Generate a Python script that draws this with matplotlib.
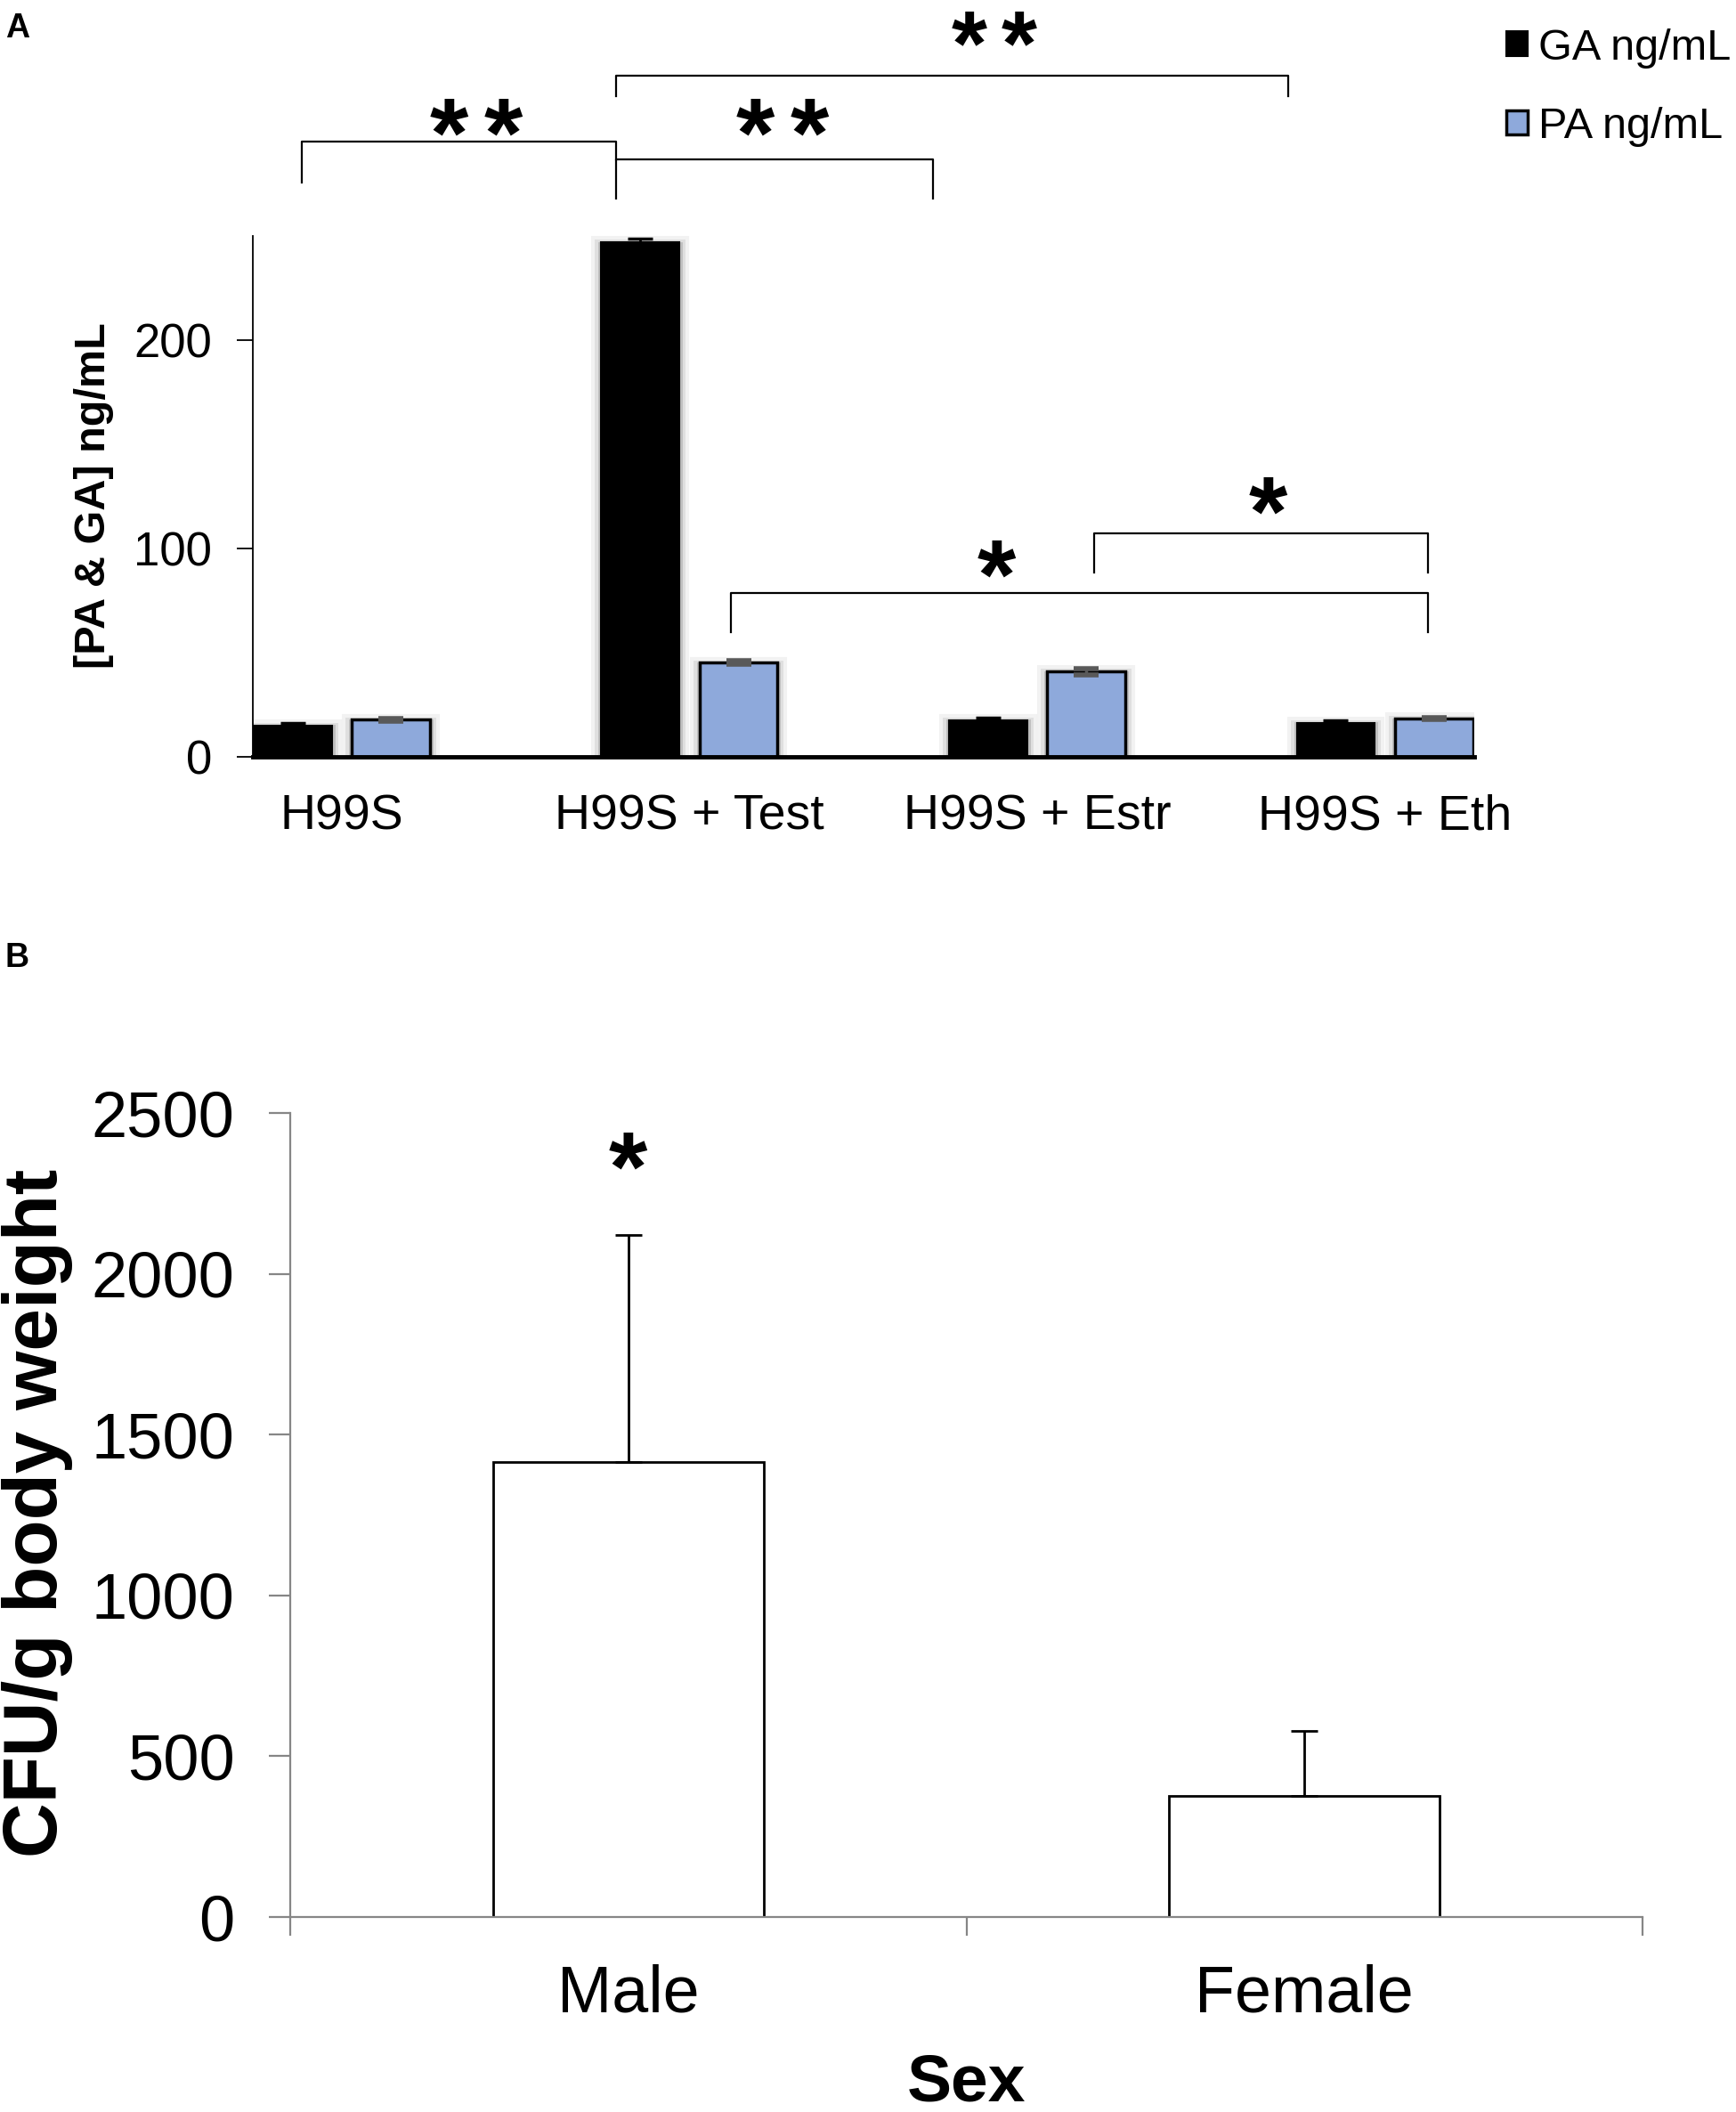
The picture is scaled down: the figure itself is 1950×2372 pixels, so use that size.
import matplotlib
matplotlib.use("Agg")
import matplotlib.pyplot as plt
import matplotlib.patheffects as pe
from matplotlib.patches import Patch
import numpy as np

plt.rcParams['font.family'] = ['Liberation Sans', 'DejaVu Sans']
plt.rcParams['mathtext.fontset'] = 'custom'
plt.rcParams['mathtext.rm'] = 'Liberation Sans'
plt.rcParams['mathtext.bf'] = 'Liberation Sans:bold'

# Panel A data
groups = ['H99S', 'H99S + Test', 'H99S + Estr', 'H99S + Eth']
ga_vals = [15.0, 247.0, 17.5, 16.3]
ga_err = [1.0, 1.5, 1.2, 1.0]
pa_vals = [17.6, 45.0, 40.8, 18.2]
pa_err = [0.7, 0.8, 1.5, 0.5]

# significance brackets: (x_left, x_right, y_top, left_leg_bottom, right_leg_bottom, stars, star_x, star_y, size)
brackets = [
    (-0.115, 0.788, 295.2, 275.5, 286.6, 2, 0.387, 296, 80),
    (0.788, 1.700, 286.6, 267.9, 267.9, 2, 1.269, 296, 80),
    (0.788, 2.721, 326.8, 317.1, 317.1, 2, 1.877, 339, 74),
    (1.120, 3.125, 78.3, 59.8, 59.8, 1, 1.885, 84, 80),
    (2.164, 3.125, 107.3, 88.4, 88.4, 1, 2.665, 114, 80),
]

# Panel B data
sexes = ['Male', 'Female']
cfu_vals = [1415, 378]
cfu_err = [705, 200]

blue = '#8EA9DB'


def stars(n):
    return '$' + r'\,'.join([r'\mathbf{*}'] * n) + '$'


fig = plt.figure(figsize=(19.5, 23.72), dpi=100)

# ---------- Panel A ----------
axA = fig.add_axes([0.1456, 0.6418, 0.7034, 0.2466])
x = np.arange(len(groups))
w = 0.225
off = 0.141
shadow = [pe.Stroke(offset=(0, -3), linewidth=16, foreground='k', alpha=0.05),
          pe.Stroke(offset=(0, -3), linewidth=10, foreground='k', alpha=0.08),
          pe.Stroke(offset=(0, -2), linewidth=5, foreground='k', alpha=0.14),
          pe.Normal()]
bga = axA.bar(x - off, ga_vals, w, color='black', edgecolor='black', linewidth=1.5, zorder=2)
bpa = axA.bar(x + off, pa_vals, w, color=blue, edgecolor='black', linewidth=2.5, zorder=2)
for b in list(bga) + list(bpa):
    b.set_path_effects(shadow)
axA.errorbar(x - off, ga_vals, yerr=ga_err, fmt='none', ecolor='black',
             elinewidth=2, capsize=10, capthick=2.5, zorder=3)
axA.errorbar(x + off, pa_vals, yerr=pa_err, fmt='none', ecolor='#595959',
             elinewidth=2.5, capsize=10, capthick=4, zorder=3)

axA.set_xlim(-0.256, 3.256)
axA.set_ylim(0, 250)
axA.set_yticks([0, 100, 200])
axA.set_xticks(x)
axA.set_xticklabels(groups)
for s in ['top', 'right']:
    axA.spines[s].set_visible(False)
axA.spines['left'].set_linewidth(1.3)
axA.spines['bottom'].set_linewidth(3.5)
axA.spines['bottom'].set_zorder(4)
axA.tick_params(axis='y', length=13, width=1.3, pad=20, labelsize=38)
axA.tick_params(axis='x', length=0, pad=30, labelsize=40)

for xl, xr, yt, yl, yr, n, sx, sy, fs in brackets:
    axA.plot([xl, xl, xr, xr], [yl, yt, yt, yr], color='black', lw=1.6,
             clip_on=False, zorder=5)
    axA.text(sx, sy, stars(n), ha='center', va='center', fontsize=fs,
             clip_on=False)

fig.text(106 / 1950, 1 - 557 / 2372, '[PA & GA] ng/mL', rotation=90,
         ha='center', va='center', fontsize=35, fontweight='bold')

handles = [Patch(facecolor='black', edgecolor='black', linewidth=1.5, label='GA ng/mL'),
           Patch(facecolor=blue, edgecolor='black', linewidth=2.5, label='PA ng/mL')]
fig.legend(handles=handles, loc='upper right', bbox_to_anchor=(1.012, 0.999),
           frameon=False, fontsize=35, handlelength=0.5, handleheight=0.5,
           handletextpad=0.25, labelspacing=0.89, borderaxespad=0.2)

fig.text(0.003, 0.994, 'A', ha='left', va='top', fontsize=27, fontweight='bold')
fig.text(0.003, 1 - 1058 / 2372, 'B', ha='left', va='top', fontsize=27, fontweight='bold')

# ---------- Panel B ----------
axB = fig.add_axes([0.1672, 0.0923, 0.7790, 0.3807])
xb = np.arange(len(sexes))
axB.bar(xb, cfu_vals, 0.4, color='white', edgecolor='black', linewidth=2, zorder=2)
axB.errorbar(xb, cfu_vals, yerr=[np.zeros(len(cfu_err)), cfu_err], fmt='none',
             ecolor='black', elinewidth=2, capsize=11, capthick=2, zorder=3)
axB.text(xb[0], 2310, stars(1), ha='center', va='center', fontsize=80)

grey = '#868686'
axB.set_xlim(-0.5, 1.5)
axB.set_ylim(0, 2500)
axB.set_yticks(np.arange(0, 2501, 500))
axB.set_xticks([-0.5, 0.5, 1.5])
axB.set_xticklabels([])
axB.set_xticks(xb, minor=True)
axB.set_xticklabels(sexes, minor=True)
for s in ['top', 'right']:
    axB.spines[s].set_visible(False)
for s in ['left', 'bottom']:
    axB.spines[s].set_color(grey)
    axB.spines[s].set_linewidth(1.6)
axB.tick_params(axis='y', length=17, width=1.6, color=grey, pad=28, labelsize=52)
axB.tick_params(axis='x', which='major', length=15, width=1.6, color=grey)
axB.tick_params(axis='x', which='minor', length=0, pad=38, labelsize=53)
axB.set_xlabel('Sex', fontsize=54, fontweight='bold', labelpad=22)

fig.text(42 / 1950, 1 - 1699 / 2372, 'CFU/g body weight', rotation=90,
         ha='center', va='center', fontsize=61.5, fontweight='bold')

fig.savefig('out.png', dpi=100)
